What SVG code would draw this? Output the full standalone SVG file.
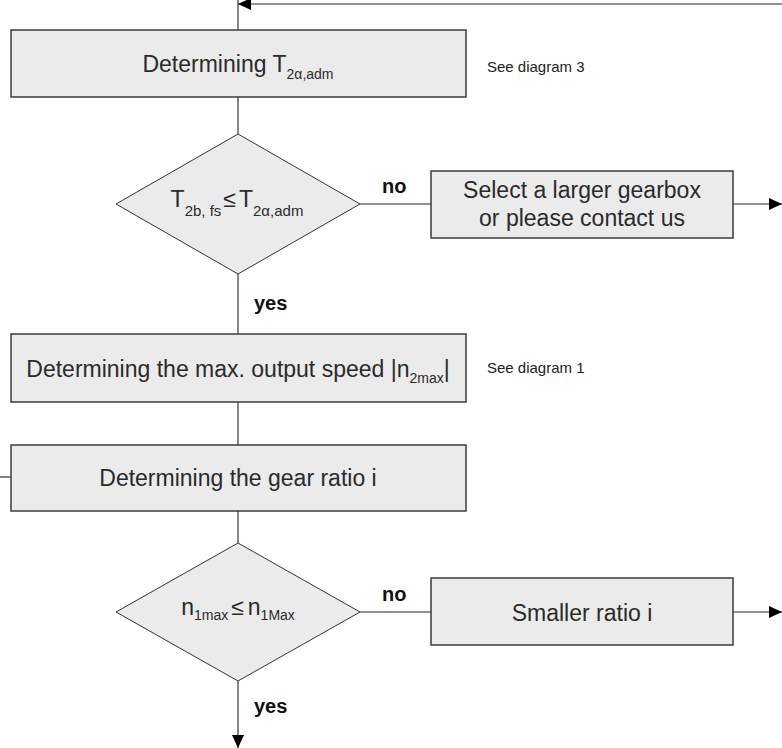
<svg xmlns="http://www.w3.org/2000/svg" width="782" height="748" viewBox="0 0 782 748">
<defs>
<marker id="ah" markerUnits="userSpaceOnUse" markerWidth="13" markerHeight="12" refX="13" refY="6" orient="auto">
<path d="M0,0 L13,6 L0,12 z" fill="#000"/>
</marker>
<style>
.box{fill:#ebebeb;stroke:#3c3c3c;stroke-width:1.5}
.dia{fill:#ebebeb;stroke:#333;stroke-width:1}
.ln{fill:none;stroke:#222;stroke-width:1.1}
.t{font-family:"Liberation Sans",Arial,sans-serif;font-size:23px;fill:#2a2a2a;text-anchor:middle}
.sub{font-size:14px}
.note{font-family:"Liberation Sans",Arial,sans-serif;font-size:15px;fill:#222}
.lbl{font-family:"Liberation Sans",Arial,sans-serif;font-size:20px;font-weight:bold;fill:#111}
</style>
</defs>
<rect width="782" height="748" fill="#fff"/>
<g id="connectors">
<line class="ln" x1="238" y1="0" x2="238" y2="30"/>
<line class="ln" x1="782" y1="4" x2="238" y2="4" marker-end="url(#ah)"/>
<line class="ln" x1="238" y1="97" x2="238" y2="134"/>
<line class="ln" x1="360" y1="204" x2="431" y2="204"/>
<line class="ln" x1="733" y1="204" x2="782" y2="204" marker-end="url(#ah)"/>
<line class="ln" x1="238" y1="274" x2="238" y2="334"/>
<line class="ln" x1="238" y1="402" x2="238" y2="445"/>
<line class="ln" x1="0" y1="477" x2="11" y2="477"/>
<line class="ln" x1="238" y1="511" x2="238" y2="543"/>
<line class="ln" x1="360" y1="612" x2="431" y2="612"/>
<line class="ln" x1="733" y1="612" x2="782" y2="612" marker-end="url(#ah)"/>
<line class="ln" x1="238" y1="681" x2="238" y2="748" marker-end="url(#ah)"/>
<text class="lbl" x="382" y="193">no</text>
<text class="lbl" x="254" y="310" font-size="21">yes</text>
<text class="lbl" x="382" y="601">no</text>
<text class="lbl" x="254" y="713" font-size="21">yes</text>
</g>
<g id="n1">
<rect class="box" x="11" y="30" width="455" height="67"/>
<text class="t" x="238" y="72">Determining T<tspan class="sub" dy="7">2α,adm</tspan></text>
</g>
<g id="note3">
<text class="note" x="487" y="72">See diagram 3</text>
</g>
<g id="d1">
<polygon class="dia" points="238,134 360,204 238,274 116,204"/>
<text class="t" x="237" y="207" font-size="22">T<tspan font-size="15" dy="9">2b, fs</tspan><tspan dy="-9" dx="2">≤</tspan><tspan dx="3">T</tspan><tspan font-size="15" dy="9">2α,adm</tspan></text>
</g>
<g id="n2">
<rect class="box" x="431" y="171" width="302" height="67"/>
<text class="t" x="582" y="198">Select a larger gearbox</text>
<text class="t" x="582" y="226">or please contact us</text>
</g>
<g id="n3">
<rect class="box" x="11" y="334" width="455" height="68"/>
<text class="t" x="238" y="377">Determining the max. output speed |n<tspan class="sub" dy="6">2max</tspan><tspan dy="-6">|</tspan></text>
</g>
<g id="note1">
<text class="note" x="487" y="373">See diagram 1</text>
</g>
<g id="n4">
<rect class="box" x="11" y="445" width="455" height="66"/>
<text class="t" x="238" y="486">Determining the gear ratio i</text>
</g>
<g id="d2">
<polygon class="dia" points="238,543 360,612 238,681 116,612"/>
<text class="t" x="238" y="615" font-size="22">n<tspan class="sub" dy="5">1max</tspan><tspan dy="-5" dx="3">≤</tspan><tspan dx="4">n</tspan><tspan class="sub" dy="5">1Max</tspan></text>
</g>
<g id="n5">
<rect class="box" x="431" y="578" width="302" height="67"/>
<text class="t" x="582" y="621">Smaller ratio i</text>
</g>
</svg>
